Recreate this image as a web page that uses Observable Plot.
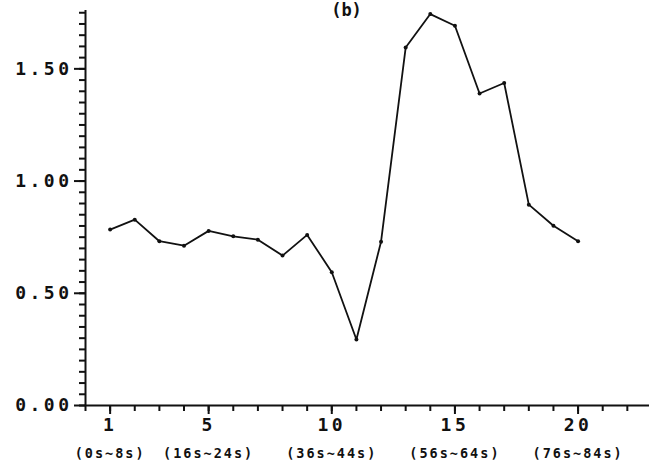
<!DOCTYPE html>
<html>
<head>
<meta charset="utf-8">
<script src="https://cdn.jsdelivr.net/npm/d3@7"></script>
<script src="https://cdn.jsdelivr.net/npm/@observablehq/plot@0.6"></script>
<style>
  html, body { margin: 0; padding: 0; background: #fff; }
  #chart svg { display: block; overflow: visible; }
</style>
</head>
<body>
<div id="chart"></div>
<script>
// Sample index (1..20) and measured value
const samples = [1, 2, 3, 4, 5, 6, 7, 8, 9, 10, 11, 12, 13, 14, 15, 16, 17, 18, 19, 20];
const values  = [0.784, 0.828, 0.732, 0.712, 0.778, 0.754, 0.739, 0.668, 0.760, 0.594,
                 0.294, 0.730, 1.595, 1.744, 1.692, 1.390, 1.437, 0.895, 0.801, 0.732];

// Axis ticks and labels
const xLabelTicks = [1, 5, 10, 15, 20];
const xRangeLabels = ["(0s~8s)", "(16s~24s)", "(36s~44s)", "(56s~64s)", "(76s~84s)"];
const xMinorTicks = d3.range(0, 23);
const yLabelTicks = [0, 0.5, 1.0, 1.5];
const yMinorTicks = d3.range(0, 36).map(i => +(i * 0.05).toFixed(2));
const title = "(b)";

const data = samples.map((s, i) => ({x: s, y: values[i]}));
const font = "DejaVu Sans Mono";

const chart = Plot.plot({
  width: 649,
  height: 468,
  marginLeft: 85,
  marginRight: 0,
  marginTop: 10,
  marginBottom: 63,
  style: {fontFamily: font, color: "#111", background: "#fff"},
  x: {domain: [0, 22.9]},
  y: {domain: [0, 1.76]},
  marks: [
    // minor ticks (no labels)
    Plot.axisY({ticks: yMinorTicks, tickSize: 6, tickFormat: () => "", strokeWidth: 2, label: null}),
    Plot.axisX({ticks: xMinorTicks, tickSize: 6, tickFormat: () => "", strokeWidth: 2, label: null}),
    // major ticks with labels
    Plot.axisY({ticks: yLabelTicks, tickSize: 11, tickPadding: 2, tickFormat: d3.format(".2f"),
                strokeWidth: 2, fontSize: 18, fontWeight: "bold", label: null}),
    Plot.axisX({ticks: xLabelTicks, tickSize: 9, tickPadding: 4, tickFormat: d => String(d),
                strokeWidth: 2, fontSize: 18, fontWeight: "bold", label: null}),
    Plot.axisX({ticks: xLabelTicks, tickSize: 0, tickPadding: 43,
                tickFormat: d => xRangeLabels[xLabelTicks.indexOf(d)],
                fontSize: 13.5, fontWeight: "bold", label: null}),
    // axis lines
    Plot.ruleX([0], {y1: 0, y2: 1.76, stroke: "#111", strokeWidth: 2}),
    Plot.ruleY([0], {x1: 0, x2: 22.9, stroke: "#111", strokeWidth: 2}),
    // data
    Plot.line(data, {x: "x", y: "y", stroke: "#111", strokeWidth: 1.8}),
    Plot.dot(data, {x: "x", y: "y", r: 2, fill: "#111", stroke: "none"}),
    // title
    Plot.text([title], {text: d => d, frameAnchor: "top", dx: -21, dy: -7,
                        lineAnchor: "top", fontSize: 17, fontWeight: "bold", fill: "#111"})
  ]
});

const svg = d3.select(chart);
svg.selectAll('[font-size="18"] text').attr("letter-spacing", "3.5px");
svg.selectAll('[font-size="13.5"] text').attr("letter-spacing", "2px");
document.getElementById("chart").appendChild(chart);
</script>
</body>
</html>
